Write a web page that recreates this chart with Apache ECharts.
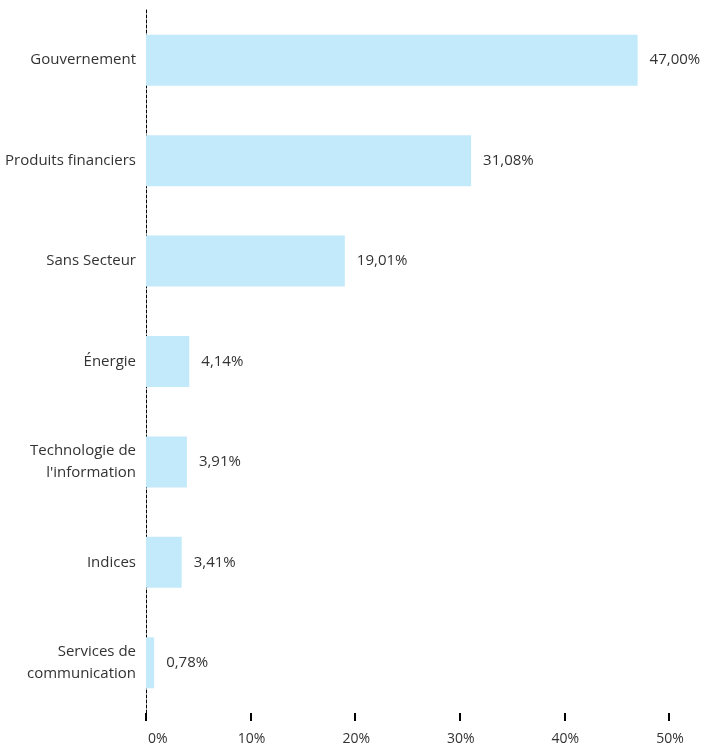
<!DOCTYPE html>
<html>
<head>
<meta charset="utf-8">
<script src="https://cdn.jsdelivr.net/npm/echarts@6/dist/echarts.min.js"></script>
<style>
  html, body { margin: 0; padding: 0; background: #fff; }
  #chart { width: 701px; height: 746px; }
</style>
</head>
<body>
<div id="chart"></div>
<script>
// Sector weights (%)
const sectors = [
  'Gouvernement',
  'Produits financiers',
  'Sans Secteur',
  'Énergie',
  'Technologie de\nl\'information',
  'Indices',
  'Services de\ncommunication'
];
const weights = [47.00, 31.08, 19.01, 4.14, 3.91, 3.41, 0.78];
const xTicks = [0, 10, 20, 30, 40, 50];

const fmt = v => v.toFixed(2).replace('.', ',') + '%';
const font = '"Open Sans", "Noto Sans", sans-serif';

const chart = echarts.init(document.getElementById('chart'));
chart.setOption({
  animation: false,
  grid: { left: 146, top: 10, width: 523, height: 704, containLabel: false },
  xAxis: {
    type: 'value',
    min: xTicks[0],
    max: xTicks[xTicks.length - 1],
    interval: 10,
    axisLine: { show: false },
    axisTick: { show: true, length: 8, lineStyle: { color: '#000', width: 2 } },
    splitLine: { show: false },
    axisLabel: {
      margin: 19,
      fontSize: 14,
      color: '#333',
      fontFamily: font,
      alignMinLabel: 'left',
      padding: [0, 0, 0, 2],
      formatter: v => v + '%'
    }
  },
  yAxis: {
    type: 'category',
    inverse: true,
    data: sectors,
    axisLine: { show: true, lineStyle: { color: '#000', type: [3, 2], width: 1 } },
    axisTick: { show: false },
    axisLabel: {
      margin: 10,
      fontSize: 15,
      lineHeight: 22,
      color: '#333',
      fontFamily: font
    }
  },
  series: [{
    type: 'bar',
    data: weights,
    barWidth: 51,
    itemStyle: { color: '#c3eafa' },
    label: {
      show: true,
      position: 'right',
      distance: 12,
      fontSize: 15,
      color: '#333',
      fontFamily: font,
      formatter: p => fmt(p.value)
    }
  }]
});
</script>
</body>
</html>
